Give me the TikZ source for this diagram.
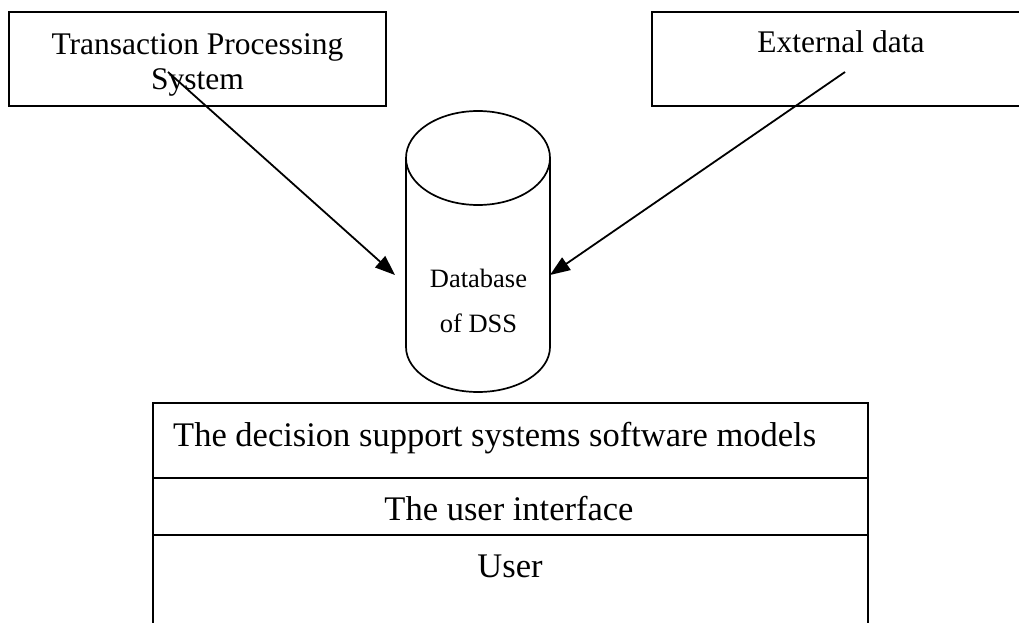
\documentclass[tikz,border=0pt]{standalone}
\usepackage{fontspec}
\setmainfont{Liberation Serif}
\usetikzlibrary{arrows.meta}
\begin{document}
\begin{tikzpicture}[x=1pt,y=-1pt,
  boxline/.style={draw=black, line width=2.2pt, inner sep=0pt, outer sep=0pt},
  cylline/.style={draw=black, line width=1.7pt},
  conn/.style={draw=black, line width=1.8pt, -{Triangle[length=20pt,width=15pt]}},
  topfont/.style={font=\fontsize{31.5}{35}\selectfont, inner sep=0pt},
  dbfont/.style={font=\fontsize{26.5}{45}\selectfont, inner sep=0pt},
  lowfont/.style={font=\fontsize{34.5}{40}\selectfont, inner sep=0pt}]
\useasboundingbox (0,0) rectangle (1019,623);
\clip (0,0) rectangle (1019,623);

% top boxes
\node[boxline, minimum width=377pt, minimum height=94pt] (tps) at (197.5,59) {};
\node[boxline, minimum width=378pt, minimum height=94pt] (ext) at (841,59) {};
\node[topfont, align=center, anchor=base] (tpstext) at (197.5,90) {Transaction Processing\\System};
\node[topfont, anchor=base] (exttext) at (841,53) {External data};

% cylinder
\draw[cylline] (406,158) -- (406,347) arc[start angle=180, end angle=0, x radius=72, y radius=45] -- (550,158);
\draw[cylline] (478,158) ellipse [x radius=72, y radius=47];
\node[dbfont, align=center, anchor=base] (db) at (478.5,332) {Database\\of DSS};

% connectors
\coordinate (s1) at (168,72);
\coordinate (t1) at (395,275);
\coordinate (s2) at (845,72);
\coordinate (t2) at (550,275);
\draw[conn] (s1) -- (t1);
\draw[conn] (s2) -- (t2);

% bottom stacked box
\node[boxline, minimum width=715pt, minimum height=75pt] (r1) at (510.5,440.5) {};
\node[boxline, minimum width=715pt, minimum height=57pt] (r2) at (510.5,506.5) {};
\node[boxline, minimum width=715pt, minimum height=105pt] (r3) at (510.5,587.5) {};
\node[lowfont, anchor=base west] (r1text) at (173,446) {The decision support systems software models};
\node[lowfont, anchor=base] (r2text) at (509,520) {The user interface};
\node[lowfont, anchor=base] (r3text) at (510,577) {User};
\end{tikzpicture}
\end{document}
